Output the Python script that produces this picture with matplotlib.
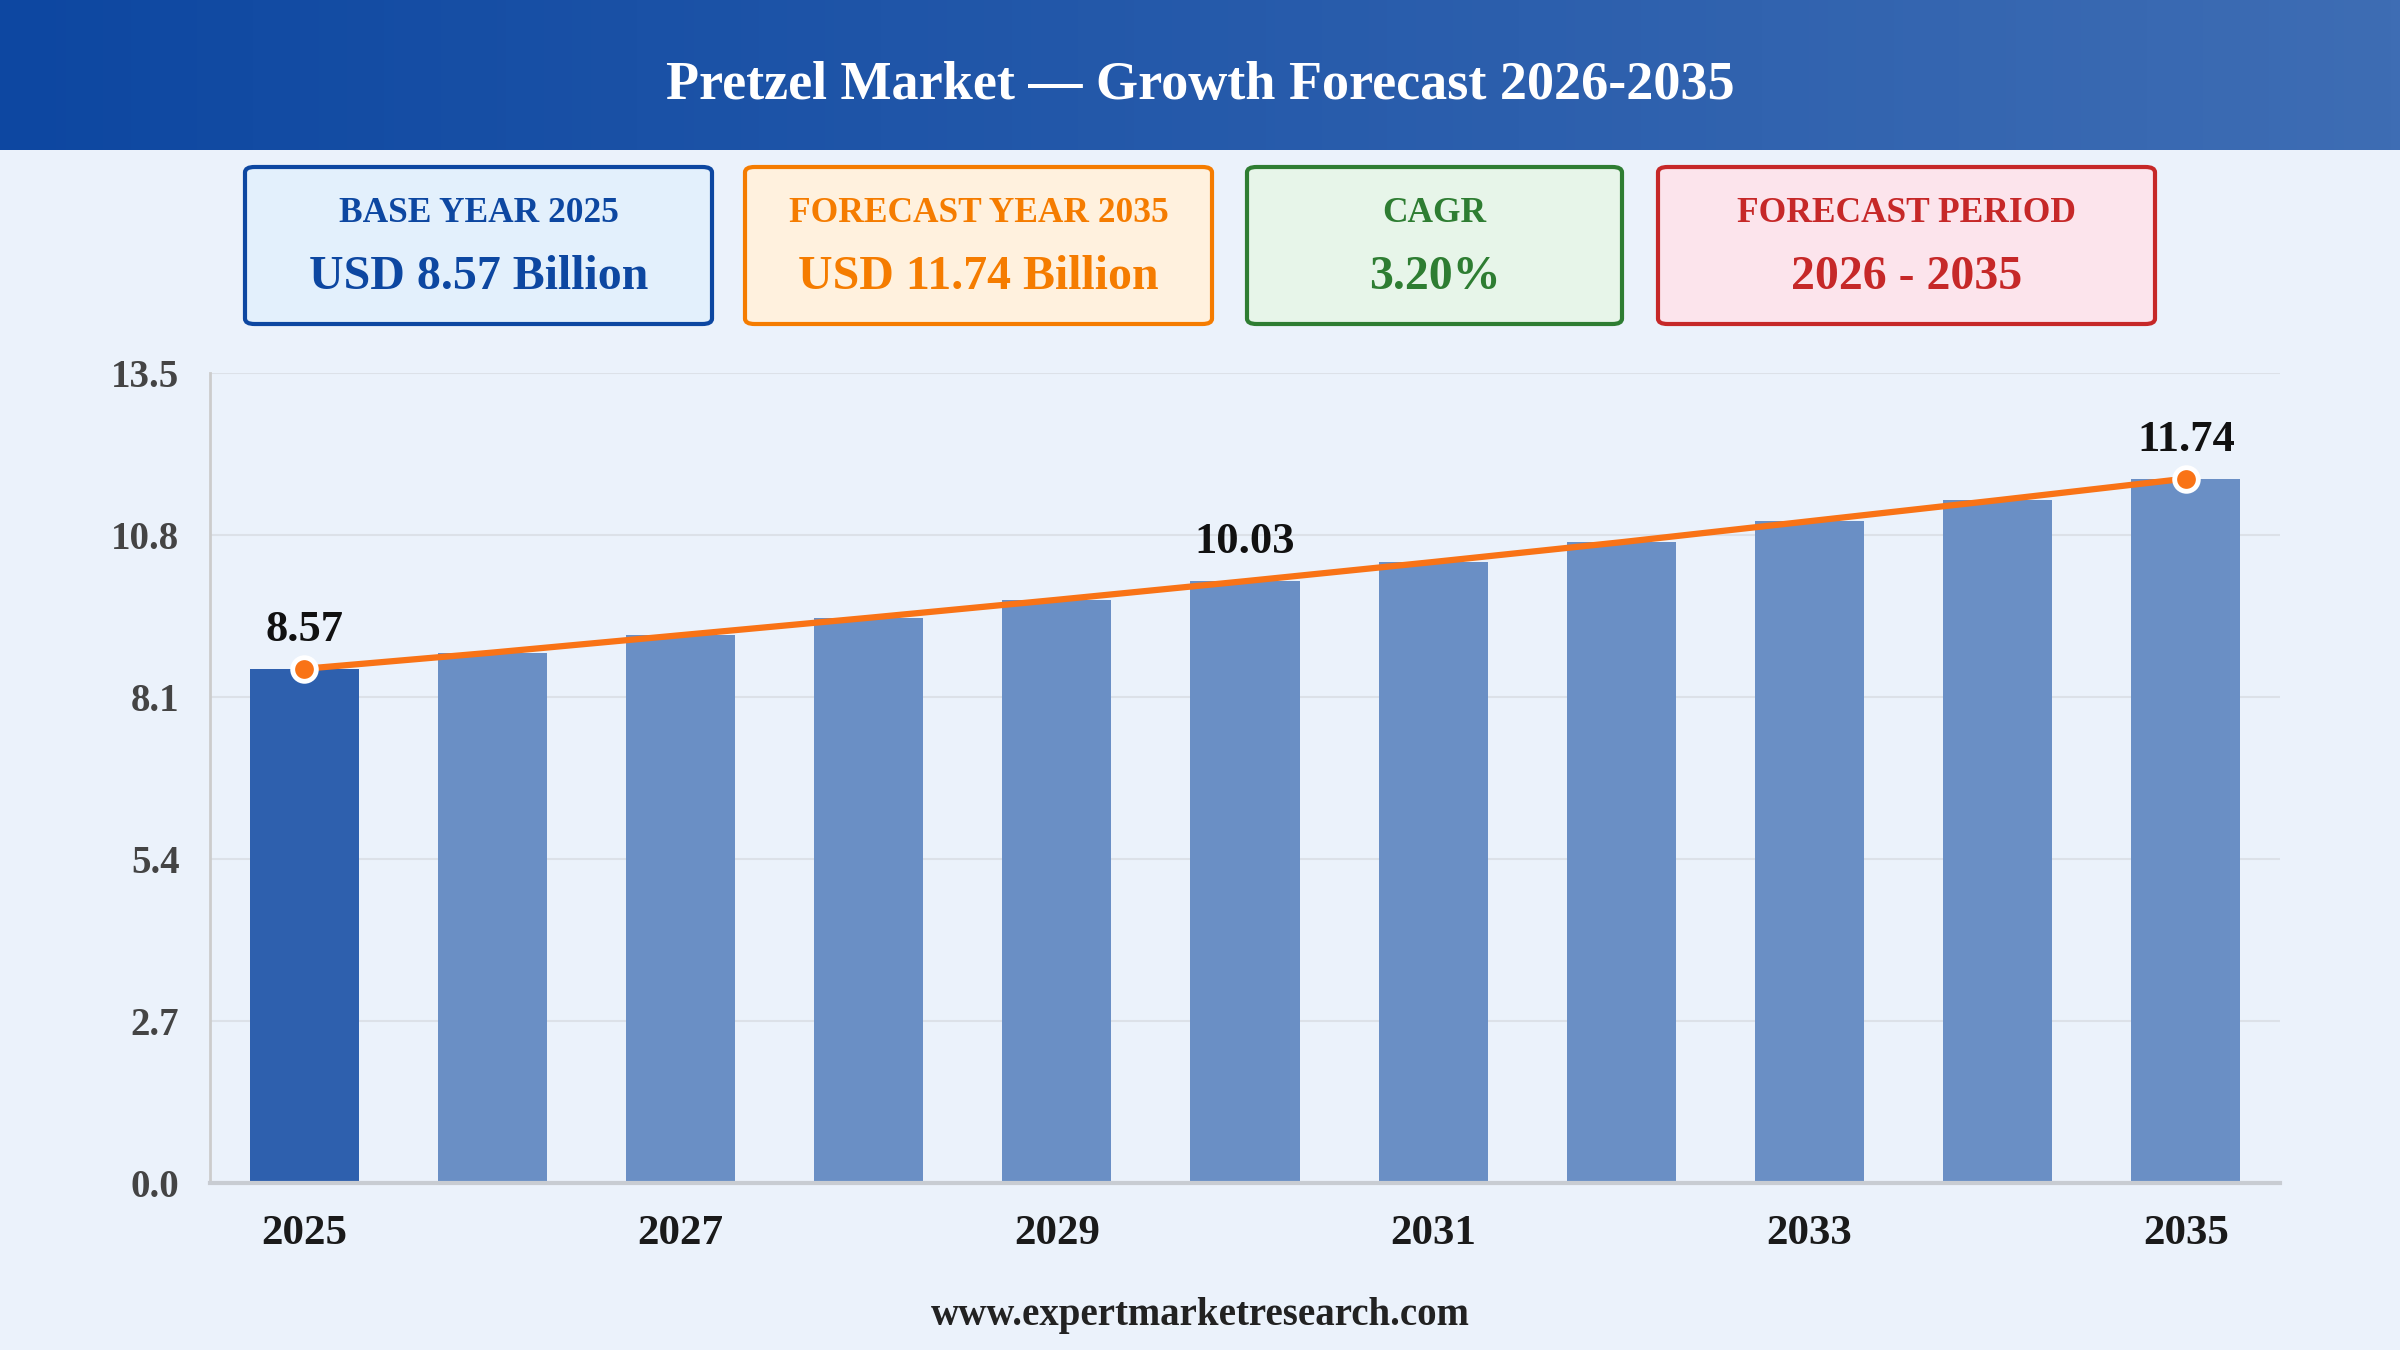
import matplotlib
matplotlib.use("Agg")
import matplotlib.pyplot as plt
import numpy as np
from matplotlib.patches import FancyBboxPatch
from matplotlib.colors import LinearSegmentedColormap

plt.rcParams['font.family'] = ['Liberation Serif', 'DejaVu Serif']
plt.rcParams['font.weight'] = 'bold'

# data
years = [2025, 2026, 2027, 2028, 2029, 2030, 2031, 2032, 2033, 2034, 2035]
values = [8.57, 8.84, 9.13, 9.42, 9.72, 10.03, 10.35, 10.68, 11.03, 11.38, 11.74]
yticks = [0.0, 2.7, 5.4, 8.1, 10.8, 13.5]
labeled_years = [2025, 2030, 2035]
marker_years = [2025, 2035]

box_titles = ["BASE YEAR 2025", "FORECAST YEAR 2035", "CAGR", "FORECAST PERIOD"]
box_values = ["USD 8.57 Billion", "USD 11.74 Billion", "3.20%", "2026 - 2035"]
box_edges = ["#0D47A1", "#F57C00", "#2E7D32", "#C62828"]
box_fills = ["#E3F0FC", "#FFF1DE", "#E7F5E9", "#FCE4EC"]
box_x = [(245, 712), (745, 1212), (1247, 1622), (1658, 2155)]

W, H = 2400, 1350
bg = "#EBF2FB"
fig = plt.figure(figsize=(24, 13.5), dpi=100, facecolor=bg)

# header band with gradient
hax = fig.add_axes([0, 1 - 150 / H, 1, 150 / H])
grad = np.linspace(0, 1, 256).reshape(1, -1)
cmap = LinearSegmentedColormap.from_list("hdr", ["#0D47A1", "#3E6DB4"])
hax.imshow(grad, aspect="auto", cmap=cmap, extent=[0, 1, 0, 1])
hax.set_axis_off()
hax.text(0.5, 0.43, "Pretzel Market \u2014 Growth Forecast 2026-2035", color="white",
         fontsize=39, fontweight="bold", ha="center", va="center", transform=hax.transAxes)

# stat boxes
y0 = 1 - 324 / H
bh = 157 / H
for (xa, xb), t, v, ec, fc in zip(box_x, box_titles, box_values, box_edges, box_fills):
    p = FancyBboxPatch((xa / W, y0), (xb - xa) / W, bh,
                       boxstyle="round,pad=0,rounding_size=0.004",
                       transform=fig.transFigure, facecolor=fc, edgecolor=ec, linewidth=3)
    fig.patches.append(p)
    cx = (xa + xb) / 2 / W
    fig.text(cx, 1 - 213 / H, t, color=ec, fontsize=25.5, fontweight="bold", ha="center", va="center")
    fig.text(cx, 1 - 277 / H, v, color=ec, fontsize=34.5, fontweight="bold", ha="center", va="center")

# main chart
ax = fig.add_axes([210 / W, 1 - 1183 / H, 2070 / W, 810 / H])
ax.set_facecolor(bg)
x = np.arange(len(years))
colors = ["#2E60AE"] + ["#6A8FC5"] * (len(years) - 1)
ax.bar(x, values, width=0.58, color=colors, zorder=2)
ax.plot(x, values, color="#F97316", lw=4.5, zorder=3, solid_capstyle="round")
for yr in marker_years:
    i = years.index(yr)
    ax.plot(x[i], values[i], "o", ms=17, mfc="#F97316", mec="white", mew=3.5, zorder=4)
for yr in labeled_years:
    i = years.index(yr)
    ax.annotate(f"{values[i]:.2f}", (x[i], values[i]), xytext=(0, 28), textcoords="offset points",
                ha="center", va="center", fontsize=32, fontweight="bold", color="#111111", zorder=5)

ax.set_xlim(-0.5, len(years) - 0.5)
ax.set_ylim(0, 13.5)
ax.set_yticks(yticks)
ax.set_yticklabels([f"{t:.1f}" for t in yticks], fontsize=28, color="#444444", fontweight="bold")
ax.set_xticks(x[::2])
ax.set_xticklabels([str(y) for y in years[::2]], fontsize=31, color="#1a1a1a", fontweight="bold")
ax.tick_params(axis="both", length=0)
ax.tick_params(axis="x", pad=23)
ax.tick_params(axis="y", pad=22)
ax.grid(axis="y", color="#DCE1E8", lw=1.5, zorder=0)
for s in ["top", "right"]:
    ax.spines[s].set_visible(False)
ax.spines["left"].set_color("#CCCCCC")
ax.spines["left"].set_linewidth(2)
ax.spines["bottom"].set_color("#C8CCD2")
ax.spines["bottom"].set_linewidth(3)

fig.text(0.5, 1 - 1316 / H, "www.expertmarketresearch.com", color="#222222", fontsize=28,
         fontweight="bold", ha="center", va="center")

fig.savefig("out.png", dpi=100, facecolor=bg)
